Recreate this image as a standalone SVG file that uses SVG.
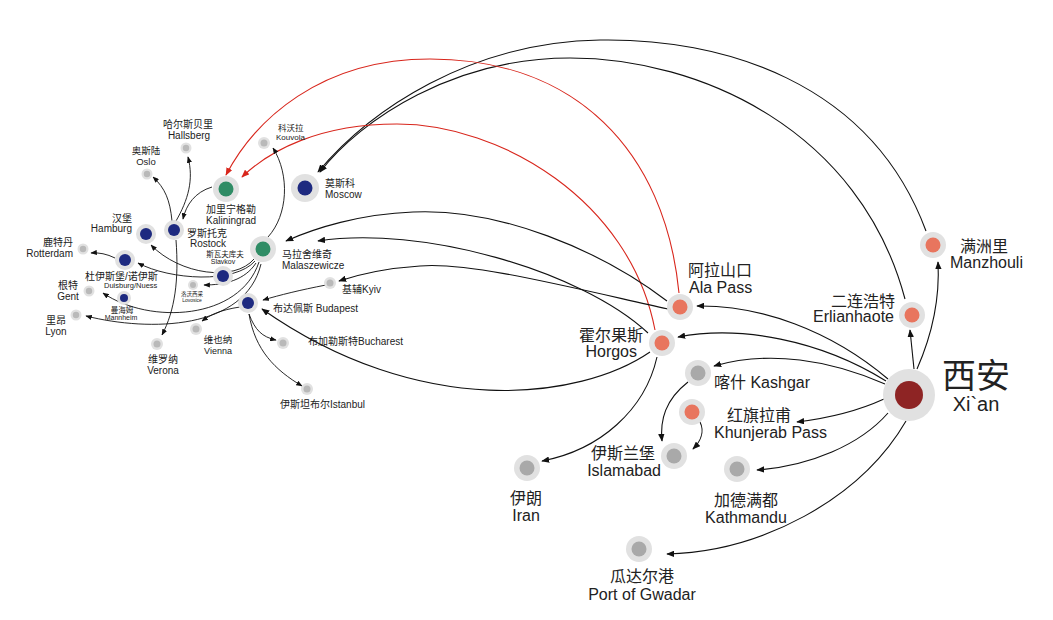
<svg xmlns="http://www.w3.org/2000/svg" width="1053" height="620" viewBox="0 0 1053 620">
<defs>
<marker id="ar" viewBox="0 0 10 8" refX="9" refY="4" markerWidth="8" markerHeight="6.4" markerUnits="userSpaceOnUse" orient="auto"><path d="M0,0 L10,4 L0,8 Z" fill="#111"/></marker>
<marker id="ars" viewBox="0 0 10 8" refX="9" refY="4" markerWidth="6.5" markerHeight="5.2" markerUnits="userSpaceOnUse" orient="auto"><path d="M0,0 L10,4 L0,8 Z" fill="#111"/></marker>
<marker id="arr" viewBox="0 0 10 8" refX="9" refY="4" markerWidth="8" markerHeight="6.4" markerUnits="userSpaceOnUse" orient="auto"><path d="M0,0 L10,4 L0,8 Z" fill="#d8261c"/></marker>
</defs>
<style>
text{font-family:"Liberation Sans","Noto Sans CJK SC",sans-serif;fill:#222}
.c{fill:none;stroke:#111;stroke-width:1.1}
.cs{fill:none;stroke:#111;stroke-width:0.9}
.cr{fill:none;stroke:#d8261c;stroke-width:1.1}
.o{fill:#e1e1e1}
.nv{fill:#1e2a80}
.gr{fill:#2f8c65}
.sa{fill:#e8755e}
.gy{fill:#a9a9a9}
.gs{fill:#b9b9b9}
.xa{fill:#8e2424}
.L{font-size:16px}
.m{text-anchor:middle}
.e{text-anchor:end}
.s{font-size:10px}
</style>
<rect width="1053" height="620" fill="#fff"/>
<g id="connectors">
<path class="c" marker-end="url(#ar)" d="M926 231 C870 80 720 38 600 40 C470 42 370 110 318 172"/>
<path class="c" marker-end="url(#ar)" d="M905 299 C860 130 700 58 570 58 C455 58 362 118 320 172"/>
<path class="cr" marker-end="url(#arr)" d="M679 293 C665 150 575 59 430 59 C320 59 255 120 226 175"/>
<path class="cr" marker-end="url(#arr)" d="M655 330 C630 200 500 124 397 124 C320 124 270 150 242 177"/>
<path class="c" marker-end="url(#ar)" d="M667 301 C600 250 500 208 413 212 C360 214 315 228 286 241"/>
<path class="c" marker-end="url(#ar)" d="M648 333 C580 270 420 225 318 241"/>
<path class="c" marker-end="url(#ar)" d="M668 309 C560 285 470 262 420 266 C390 268 360 274 339 281"/>
<path class="c" marker-end="url(#ar)" d="M650 352 C580 400 420 420 262 309"/>
<path class="c" marker-end="url(#ar)" d="M657 357 C645 410 600 450 542 461"/>
<path class="c" marker-end="url(#ar)" d="M917 369 C932 335 940 300 938 262"/>
<path class="c" marker-end="url(#ar)" d="M914 369 Q912 350 910 330"/>
<path class="c" marker-end="url(#ar)" d="M888 379 C830 330 760 305 697 306"/>
<path class="c" marker-end="url(#ar)" d="M886 381 C820 340 740 325 678 337"/>
<path class="c" marker-end="url(#ar)" d="M885 384 C830 360 770 350 714 366"/>
<path class="c" marker-end="url(#ar)" d="M884 399 C860 410 830 418 797 422"/>
<path class="c" marker-end="url(#ar)" d="M888 413 C860 445 810 466 757 470"/>
<path class="c" marker-end="url(#ar)" d="M906 421 C860 500 760 552 667 554"/>
<path class="c" marker-end="url(#ar)" d="M688 382 C665 400 660 420 662 441"/>
<path class="c" marker-end="url(#ar)" d="M700 422 C705 432 700 442 693 449"/>
<path class="cs" marker-end="url(#ars)" d="M212 187 C195 192 186 205 183 219"/>
<path class="cs" marker-end="url(#ars)" d="M172 221 C170 200 165 188 153 177"/>
<path class="cs" marker-end="url(#ars)" d="M176 221 C188 200 194 180 188 157"/>
<path class="cs" marker-end="url(#ars)" d="M176 240 C179 280 175 310 162 335"/>
<path class="cs" marker-end="url(#ars)" d="M268 237 C288 215 290 175 273 148"/>
<path class="cs" marker-end="url(#ars)" d="M254 259 C235 282 180 275 151 245"/>
<path class="cs" marker-end="url(#ars)" d="M255 261 C235 284 170 280 138 263"/>
<path class="cs" marker-end="url(#ars)" d="M256 263 C245 280 225 285 204 285"/>
<path class="cs" marker-end="url(#ars)" d="M259 262 C240 320 150 325 103 293"/>
<path class="cs" marker-end="url(#ars)" d="M261 264 C245 330 150 332 86 316"/>
<path class="cs" marker-end="url(#ars)" d="M115 258 Q103 252 91 253"/>
<path class="cs" marker-end="url(#ars)" d="M326 285 C300 290 280 295 263 300"/>
<path class="cs" marker-end="url(#ars)" d="M240 307 C220 310 210 315 202 321"/>
<path class="cs" marker-end="url(#ars)" d="M249 314 C255 330 262 337 276 340"/>
<path class="cs" marker-end="url(#ars)" d="M249 314 C255 350 275 370 302 386"/>
</g>
<g id="xian"><circle class="o" cx="909" cy="395" r="26"/><circle class="xa" cx="909" cy="395" r="14"/>
<text x="942" y="388" style="font-size:34px">西安</text><text class="m" x="976" y="411" style="font-size:20px">Xi`an</text></g>
<g id="manzhouli"><circle class="o" cx="933" cy="245" r="13"/><circle class="sa" cx="933" cy="245" r="7.5"/>
<text class="L" x="960" y="252">满洲里</text><text class="L" x="950" y="268">Manzhouli</text></g>
<g id="erlianhaote"><circle class="o" cx="912" cy="315" r="13"/><circle class="sa" cx="912" cy="315" r="7.5"/>
<text class="L e" x="895" y="307">二连浩特</text><text class="L e" x="894" y="322">Erlianhaote</text></g>
<g id="alapass"><circle class="o" cx="680" cy="307" r="13"/><circle class="sa" cx="680" cy="307" r="7.5"/>
<text class="L" x="688" y="276">阿拉山口</text><text class="L" x="689" y="293">Ala Pass</text></g>
<g id="horgos"><circle class="o" cx="662" cy="343" r="13"/><circle class="sa" cx="662" cy="343" r="7.5"/>
<text class="L e" x="643" y="341">霍尔果斯</text><text class="L e" x="637" y="357">Horgos</text></g>
<g id="kashgar"><circle class="o" cx="698" cy="373" r="13"/><circle class="gy" cx="698" cy="373" r="7.5"/>
<text class="L" x="714" y="388">喀什 Kashgar</text></g>
<g id="khunjerab"><circle class="o" cx="692" cy="412" r="13"/><circle class="sa" cx="692" cy="412" r="7.5"/>
<text class="L" x="727" y="421">红旗拉甫</text><text class="L" x="714" y="438">Khunjerab Pass</text></g>
<g id="islamabad"><circle class="o" cx="674" cy="456" r="13"/><circle class="gy" cx="674" cy="456" r="7.5"/>
<text class="L e" x="655" y="459">伊斯兰堡</text><text class="L e" x="661" y="476">Islamabad</text></g>
<g id="iran"><circle class="o" cx="527" cy="468" r="13"/><circle class="gy" cx="527" cy="468" r="7.5"/>
<text class="L m" x="526" y="504">伊朗</text><text class="L m" x="526" y="521">Iran</text></g>
<g id="kathmandu"><circle class="o" cx="737" cy="469" r="13"/><circle class="gy" cx="737" cy="469" r="7.5"/>
<text class="L m" x="746" y="506">加德满都</text><text class="L m" x="746" y="523">Kathmandu</text></g>
<g id="gwadar"><circle class="o" cx="639" cy="549" r="13"/><circle class="gy" cx="639" cy="549" r="7.5"/>
<text class="L m" x="642" y="582">瓜达尔港</text><text class="L m" x="642" y="600">Port of Gwadar</text></g>
<g id="moscow"><circle class="o" cx="305" cy="188" r="14"/><circle class="nv" cx="305" cy="188" r="7.5"/>
<text class="s" x="325" y="187">莫斯科</text><text class="s" x="325" y="198">Moscow</text></g>
<g id="kaliningrad"><circle class="o" cx="226" cy="189" r="13"/><circle class="gr" cx="226" cy="189" r="7.5"/>
<text class="s m" x="231" y="213">加里宁格勒</text><text class="s m" x="231" y="224">Kaliningrad</text></g>
<g id="malaszewicze"><circle class="o" cx="263" cy="249" r="13"/><circle class="gr" cx="263" cy="249" r="7.5"/>
<text class="s" x="282" y="258">马拉舍维奇</text><text class="s" x="282" y="269">Malaszewicze</text></g>
<g id="kouvola"><circle class="o" cx="264" cy="143" r="6"/><circle class="gs" cx="264" cy="143" r="3.5"/>
<text x="278" y="131" style="font-size:8.5px">科沃拉</text><text x="276" y="140" style="font-size:8px">Kouvola</text></g>
<g id="hallsberg"><circle class="o" cx="186" cy="148" r="5.5"/><circle class="gs" cx="186" cy="148" r="3.2"/>
<text class="s m" x="188" y="128">哈尔斯贝里</text><text class="s m" x="189" y="139">Hallsberg</text></g>
<g id="oslo"><circle class="o" cx="147" cy="174" r="5.5"/><circle class="gs" cx="147" cy="174" r="3.2"/>
<text class="m" x="146" y="154" style="font-size:9.5px">奥斯陆</text><text class="m" x="146" y="165" style="font-size:9.5px">Oslo</text></g>
<g id="rostock"><circle class="o" cx="174" cy="230" r="10"/><circle class="nv" cx="174" cy="230" r="6"/>
<text class="s" x="187" y="237">罗斯托克</text><text class="s" x="190" y="247">Rostock</text></g>
<g id="hamburg"><circle class="o" cx="146" cy="234" r="10"/><circle class="nv" cx="146" cy="234" r="6"/>
<text class="s e" x="132" y="222">汉堡</text><text class="s e" x="132" y="232">Hamburg</text></g>
<g id="rotterdam"><circle class="o" cx="83" cy="249" r="5.5"/><circle class="gs" cx="83" cy="249" r="3.2"/>
<text class="s e" x="73" y="246">鹿特丹</text><text class="s e" x="73" y="257">Rotterdam</text></g>
<g id="duisburg"><circle class="o" cx="125" cy="260" r="10"/><circle class="nv" cx="125" cy="260" r="6"/>
<text class="s" x="85" y="280">杜伊斯堡/诺伊斯</text><text x="104" y="288" style="font-size:7.5px">Duisburg/Nuess</text></g>
<g id="slavkov"><circle class="o" cx="223" cy="276" r="10"/><circle class="nv" cx="223" cy="276" r="6"/>
<text class="m" x="225" y="257" style="font-size:7.5px">斯瓦夫库夫</text><text class="m" x="223" y="264" style="font-size:7px">Slavkov</text></g>
<g id="lovosice"><circle class="o" cx="193" cy="285" r="5"/><circle class="gs" cx="193" cy="285" r="3"/>
<text class="m" x="192" y="296" style="font-size:5.5px">洛沃西采</text><text class="m" x="192" y="302" style="font-size:5px">Lovosice</text></g>
<g id="gent"><circle class="o" cx="89" cy="291" r="5.5"/><circle class="gs" cx="89" cy="291" r="3.2"/>
<text class="s m" x="68" y="289">根特</text><text class="s m" x="68" y="300">Gent</text></g>
<g id="mannheim"><circle class="o" cx="124" cy="298" r="7"/><circle class="nv" cx="124" cy="298" r="4"/>
<text class="m" x="122" y="313" style="font-size:7.5px">曼海姆</text><text class="m" x="121" y="320" style="font-size:7px">Mannheim</text></g>
<g id="lyon"><circle class="o" cx="76" cy="315" r="5.5"/><circle class="gs" cx="76" cy="315" r="3.2"/>
<text class="s m" x="56" y="324">里昂</text><text class="s m" x="56" y="335">Lyon</text></g>
<g id="verona"><circle class="o" cx="157" cy="344" r="6"/><circle class="gs" cx="157" cy="344" r="3.5"/>
<text class="s m" x="163" y="363">维罗纳</text><text class="s m" x="163" y="374">Verona</text></g>
<g id="budapest"><circle class="o" cx="248" cy="303" r="10"/><circle class="nv" cx="248" cy="303" r="6"/>
<text class="s" x="273" y="312">布达佩斯 Budapest</text></g>
<g id="kyiv"><circle class="o" cx="330" cy="283" r="6"/><circle class="gs" cx="330" cy="283" r="3.5"/>
<text class="s" x="342" y="293">基辅Kyiv</text></g>
<g id="vienna"><circle class="o" cx="196" cy="329" r="6"/><circle class="gs" cx="196" cy="329" r="3.5"/>
<text class="m" x="218" y="343" style="font-size:9.5px">维也纳</text><text class="m" x="218" y="354" style="font-size:9px">Vienna</text></g>
<g id="bucharest"><circle class="o" cx="283" cy="343" r="6"/><circle class="gs" cx="283" cy="343" r="3.5"/>
<text class="s" x="308" y="345">布加勒斯特Bucharest</text></g>
<g id="istanbul"><circle class="o" cx="307" cy="389" r="6"/><circle class="gs" cx="307" cy="389" r="3.5"/>
<text class="s" x="280" y="408">伊斯坦布尔Istanbul</text></g>
</svg>
